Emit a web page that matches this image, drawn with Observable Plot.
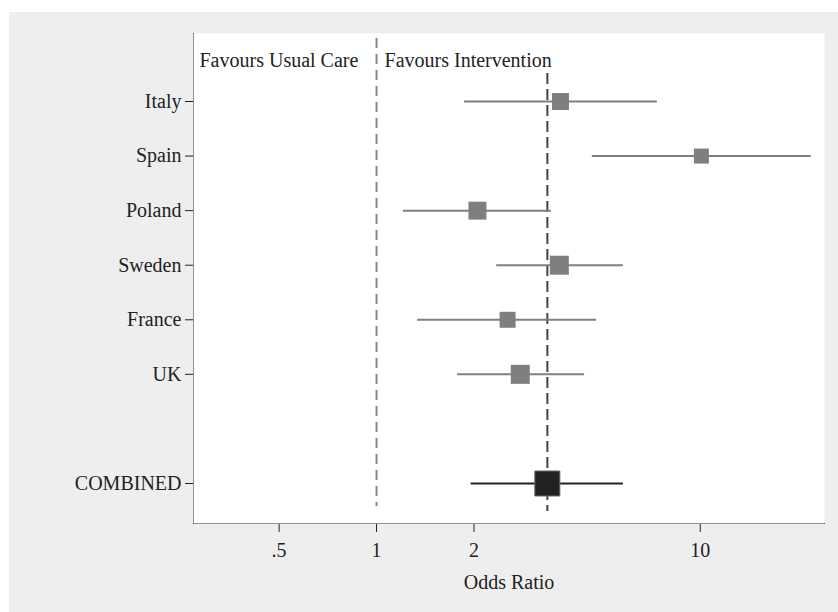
<!DOCTYPE html>
<html><head><meta charset="utf-8">
<script src="https://cdn.jsdelivr.net/npm/d3@7"></script>
<script src="https://cdn.jsdelivr.net/npm/@observablehq/plot@0.6"></script>
<style>
body{margin:0;background:#fff;}
#chart{position:absolute;left:9px;top:12px;width:829px;height:600px;background:#eeeeee;}
</style></head><body><div id="chart"></div>
<script>
// Study data
const studies   = ["Italy", "Spain", "Poland", "Sweden", "France", "UK"];
const studyRows = [1, 2, 3, 4, 5, 6];
const oddsRatio = [3.70, 10.08, 2.05, 3.67, 2.54, 2.78];
const ciLow     = [1.87, 4.64, 1.21, 2.35, 1.34, 1.78];
const ciHigh    = [7.37, 22.0, 3.47, 5.79, 4.78, 4.39];
const weights   = [15.9, 12.4, 17.8, 19.9, 14.1, 19.9];

// Pooled estimate
const combinedLabel = "COMBINED";
const combinedRow = 8;
const combinedOR = 3.37;
const combinedLow = 1.96;
const combinedHigh = 5.79;

// Axis ticks and texts
const xTicks = [0.5, 1, 2, 10];
const xTickLabels = [".5", "1", "2", "10"];
const xLabel = "Odds Ratio";
const nullValue = 1;
const headers = ["Favours Usual Care", "Favours Intervention"];

const studyData = studies.map((s, i) => ({name: s, row: studyRows[i], or: oddsRatio[i], lo: ciLow[i], hi: ciHigh[i], w: weights[i]}));
const combined = [{name: combinedLabel, row: combinedRow, or: combinedOR, lo: combinedLow, hi: combinedHigh}];
const rowTicks = [...studyRows, combinedRow];
const rowNames = [...studies, combinedLabel];

const chart = Plot.plot({
  width: 829,
  height: 600,
  marginLeft: 184,
  marginRight: 14,
  marginTop: 21,
  marginBottom: 89,
  style: {background: "transparent", fontFamily: "'Liberation Serif', serif", fontSize: "20px", color: "#222"},
  x: {type: "log", domain: [0.272, 24.2], ticks: xTicks, tickFormat: d => xTickLabels[xTicks.indexOf(d)],
      tickSize: 9, tickPadding: 10, line: true, label: xLabel, labelArrow: "none", labelAnchor: "center", labelOffset: 65},
  y: {domain: [-0.246, 8.733], reverse: true, ticks: rowTicks, tickFormat: d => rowNames[rowTicks.indexOf(d)],
      tickSize: 8, tickPadding: 4, line: true, label: null},
  r: {type: "sqrt", domain: [0, 100], range: [0, 24.03]},
  marks: [
    Plot.frame({fill: "white", stroke: "none"}),
    Plot.ruleX([nullValue], {stroke: "#868686", strokeWidth: 2, strokeDasharray: "10,6", insetTop: 5, insetBottom: 17}),
    Plot.ruleX(combined, {x: "or", stroke: "#444", strokeWidth: 2, strokeDasharray: "11,5", insetTop: 40, insetBottom: 12}),
    Plot.ruleY(studyData, {y: "row", x1: "lo", x2: "hi", stroke: "#7f7f7f", strokeWidth: 2}),
    Plot.dot(studyData, {x: "or", y: "row", r: "w", symbol: "square", fill: "#7f7f7f", stroke: "none"}),
    Plot.ruleY(combined, {y: "row", x1: "lo", x2: "hi", stroke: "#222", strokeWidth: 2}),
    Plot.dot(combined, {x: "or", y: "row", r: 14.1, symbol: "square", fill: "#222", stroke: "#666", strokeWidth: 1}),
    Plot.text([headers[0]], {text: d => d, frameAnchor: "top-left", lineAnchor: "top", textAnchor: "start", dx: 6, dy: 19, fill: "#222"}),
    Plot.text([{x: nullValue, t: headers[1]}], {x: "x", text: "t", frameAnchor: "top", lineAnchor: "top", textAnchor: "start", dx: 8, dy: 19, fill: "#222"})
  ]
});
document.getElementById("chart").appendChild(chart);
</script></body></html>
